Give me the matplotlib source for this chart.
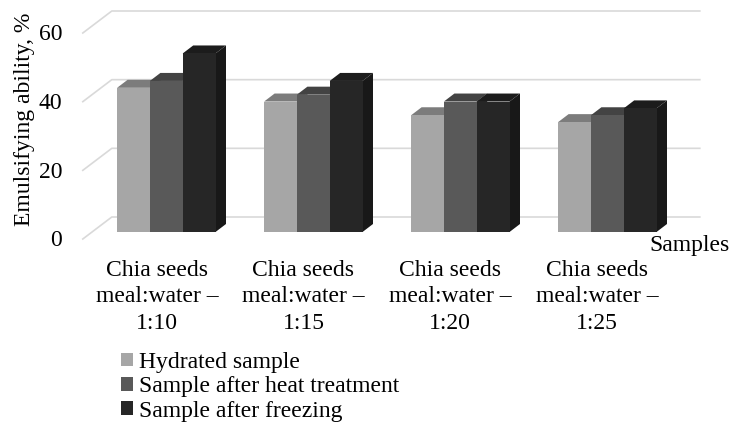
import matplotlib
matplotlib.use('Agg')
import matplotlib.pyplot as plt
from matplotlib.patches import Patch, Polygon, Rectangle

plt.rcParams['font.family'] = ['Liberation Serif', 'DejaVu Serif']

categories = ['Chia seeds\nmeal:water –\n1:10', 'Chia seeds\nmeal:water –\n1:15',
              'Chia seeds\nmeal:water –\n1:20', 'Chia seeds\nmeal:water –\n1:25']
series_names = ['Hydrated sample', 'Sample after heat treatment', 'Sample after freezing']
hydrated = [42, 38, 34, 32]
heat_treated = [44, 40, 38, 34]
frozen = [52, 44, 38, 36]
y_ticks = [0, 20, 40, 60]

front_colors = ['#a6a6a6', '#595959', '#262626']
top_colors = ['#7c7c7c', '#434343', '#1c1c1c']
side_colors = ['#5c5c5c', '#303030', '#181818']

W, H = 731, 424
FS = 17
fig = plt.figure(figsize=(W / 100, H / 100), dpi=100)
# axes plane is the front face of the bars
ax = fig.add_axes([92.8 / W, (H - 232) / H, 588 / W, 206 / H])
ax.set_xlim(-0.5, 3.5)
ax.set_ylim(0, 60)
ax.axis('off')

# pixel sizes turned into data units
px_x = 4 / 588
px_y = 60 / 206
bar_w = 32.8 / 147
dep_x, dep_y = 10.5 * px_x, 8 * px_y

# walls
for v in y_ticks:
    x0 = -0.5 - 10 * px_x
    y0 = v - 7 * px_y
    x1 = -0.5 + 19 * px_x
    y1 = v + 15 * px_y
    x2 = 3.5 + 19 * px_x
    ax.plot([x0, x1, x2], [y0, y1, y1], color='#d9d9d9', lw=1.2, clip_on=False, zorder=1)
    ax.annotate(str(v), (62, v), xycoords=('figure pixels', 'data'), xytext=(0, -9),
                textcoords='offset pixels', ha='right', va='center', fontsize=FS,
                annotation_clip=False)

# bars, left to right
all_series = [hydrated, heat_treated, frozen]
for i in range(len(categories)):
    for j, vals in enumerate(all_series):
        v = vals[i]
        left = i + (j - 1.5) * bar_w
        right = left + bar_w
        z = 3 + i + j * 0.1
        ax.add_patch(Polygon([(right, 0), (right + dep_x, dep_y), (right + dep_x, v + dep_y), (right, v)],
                             color=side_colors[j], lw=0, zorder=z, clip_on=False))
        ax.add_patch(Polygon([(left, v), (left + dep_x, v + dep_y), (right + dep_x, v + dep_y), (right, v)],
                             color=top_colors[j], lw=0, zorder=z, clip_on=False))
        ax.add_patch(Rectangle((left, 0), bar_w, v, color=front_colors[j], lw=0, zorder=z + 0.01))

label_x = [157, 303.5, 450, 597]
for x, name in zip(label_x, categories):
    fig.text(x / W, (H - 260) / H, name, ha='center', va='top', fontsize=FS, linespacing=1.34)

fig.text(730 / W, (H - 245) / H, 'Samples', ha='right', va='center', fontsize=FS)
fig.text(25 / W, (H - 119) / H, 'Emulsifying ability, %', rotation=90, ha='center', va='center', fontsize=FS)

handles = [Patch(color=c, lw=0) for c in front_colors]
fig.legend(handles, series_names, loc='upper left', bbox_to_anchor=(121 / W, (H - 352) / H),
           frameon=False, fontsize=FS, handlelength=0.51, handleheight=0.51, handletextpad=0.25,
           labelspacing=0.14, borderpad=0, borderaxespad=0)

fig.savefig('out.png', dpi=100)
